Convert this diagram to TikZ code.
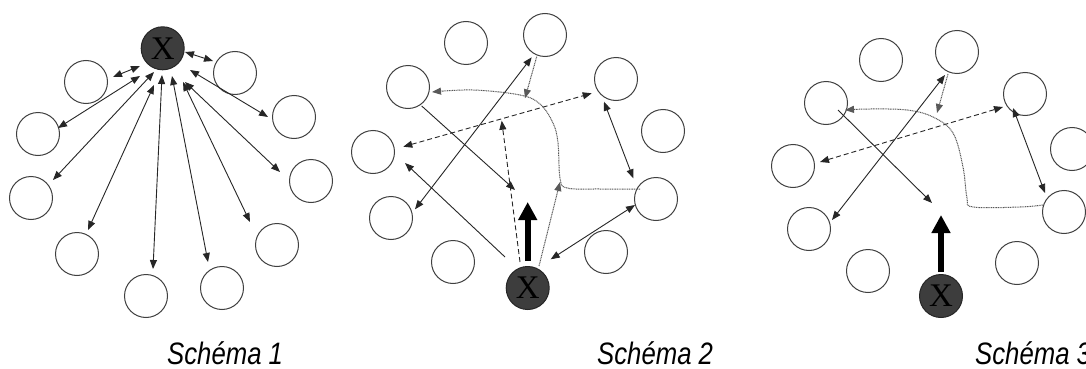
\documentclass[tikz,border=0pt]{standalone}
\usepackage{fontspec}
\usepackage{graphicx}
\setmainfont{Liberation Sans}
\newfontfamily\xfont{Liberation Serif}
\usetikzlibrary{arrows.meta}
\begin{document}
\begin{tikzpicture}[x=1pt,y=-1pt,
  circ/.style={circle,draw=black!75,line width=1pt,minimum size=43pt,inner sep=0pt},
  xnode/.style={circle,draw=black!85,fill=black!76,line width=1pt,minimum size=43pt,inner sep=0pt,font=\xfont\fontsize{33}{33}\selectfont},
  link/.style={line width=0.9pt,draw=black!85},
  tip/.style={-{Triangle[length=9pt,width=7pt]}},
  both/.style={{Triangle[length=9pt,width=7pt]}-{Triangle[length=9pt,width=7pt]}},
  dashlink/.style={link,dash pattern=on 5pt off 3pt},
  dotlink/.style={line width=1pt,draw=black!65,dash pattern=on 1pt off 0.7pt},
  bigarrow/.style={line width=6pt,draw=black,-{Triangle[length=18pt,width=18pt]}},
  caption/.style={font=\fontsize{31}{31}\selectfont\itshape,inner sep=0pt,anchor=base west}
]
\clip (0,0) rectangle (1086,369);
\fill[white] (0,0) rectangle (1086,369);

% ---------------- Schema 1 ----------------
\node[xnode] (s1x) at (162.7,48.3) {X};
\node[circ] (s1a) at (86,82) {};
\node[circ] (s1b) at (235,73) {};
\node[circ] (s1c) at (38,134) {};
\node[circ] (s1d) at (294,117) {};
\node[circ] (s1e) at (31,198) {};
\node[circ] (s1f) at (311,181) {};
\node[circ] (s1g) at (77,254) {};
\node[circ] (s1h) at (277,245) {};
\node[circ] (s1i) at (146,296) {};
\node[circ] (s1j) at (222,288) {};

\coordinate (p1a) at (185,52);  \coordinate (q1a) at (213,61);
\coordinate (p1b) at (140,66);  \coordinate (q1b) at (113,77);
\coordinate (p1c) at (140,76);  \coordinate (q1c) at (58,128);
\coordinate (p1d) at (154,72);  \coordinate (q1d) at (53,180);
\coordinate (p1e) at (154,85);  \coordinate (q1e) at (88,230);
\coordinate (p1f) at (162,75);  \coordinate (q1f) at (153,269);
\coordinate (p1g) at (172,76);  \coordinate (q1g) at (208,262);
\coordinate (p1h) at (183,82);  \coordinate (q1h) at (250,222);
\coordinate (p1i) at (185,82);  \coordinate (q1i) at (280,172);
\coordinate (p1j) at (190,70);  \coordinate (q1j) at (268,117);
\foreach \k in {a,b,c,d,e,f,g,h,i,j}
  \draw[link,both] (p1\k) -- (q1\k);

% ---------------- Schema 2 ----------------
\node[xnode] (s2x) at (527.7,288) {X};
\node[circ] (s2a) at (466,43) {};
\node[circ] (s2b) at (545,35) {};
\node[circ] (s2c) at (408,87) {};
\node[circ] (s2d) at (616,79) {};
\node[circ] (s2e) at (373,152) {};
\node[circ] (s2f) at (663,131) {};
\node[circ] (s2g) at (391,218) {};
\node[circ] (s2h) at (656,199) {};
\node[circ] (s2i) at (453,262) {};
\node[circ] (s2j) at (606,252) {};

\coordinate (a2s) at (531.7,57.3);  \coordinate (a2e) at (415,209.3);
\coordinate (b2s) at (536.7,56.7);  \coordinate (b2e) at (525,98.3);
\coordinate (c2s) at (421.7,106);   \coordinate (c2e) at (515,190);
\coordinate (d2s) at (403.3,146.7); \coordinate (d2e) at (591.7,93.3);
\coordinate (e2s) at (520,262);     \coordinate (e2e) at (501.7,120.7);
\coordinate (f2s) at (505,257);     \coordinate (f2e) at (405,163);
\coordinate (g2s) at (527.7,261);   \coordinate (g2e) at (527.7,202);
\coordinate (h2s) at (604,101.7);   \coordinate (h2e) at (633.3,178.3);
\coordinate (i2s) at (550.7,259.3); \coordinate (i2e) at (635,205);
\coordinate (j2s) at (539,266);     \coordinate (j2e) at (560,182);
\coordinate (k2s) at (640,189);     \coordinate (k2e) at (432,92);

\draw[link,both] (a2s) -- (a2e);
\draw[dotlink,tip] (b2s) -- (b2e);
\draw[link,tip] (c2s) -- (c2e);
\draw[dashlink,both] (d2s) -- (d2e);
\draw[dashlink,tip] (e2s) -- (e2e);
\draw[link,tip] (f2s) -- (f2e);
\draw[bigarrow] (g2s) -- (g2e);
\draw[link,both] (h2s) -- (h2e);
\draw[link,both] (i2s) -- (i2e);
\draw[dotlink,tip] (j2s) -- (j2e);
\draw[dotlink,tip] plot[smooth,tension=0.6] coordinates
  {(k2s) (600,189) (567,188) (560,178) (558,143) (553,123) (540,104) (520,95) (473,90) (k2e)};

% ---------------- Schema 3 ----------------
\node[xnode] (s3x) at (941,296) {X};
\node[circ] (s3a) at (881,60) {};
\node[circ] (s3b) at (957,52) {};
\node[circ] (s3c) at (826,103) {};
\node[circ] (s3d) at (1025,94) {};
\node[circ] (s3e) at (793,166) {};
\node[circ] (s3f) at (1072,149) {};
\node[circ] (s3g) at (809,229) {};
\node[circ] (s3h) at (1064,212) {};
\node[circ] (s3i) at (868,271) {};
\node[circ] (s3j) at (1017,263) {};

\coordinate (a3s) at (945,75);    \coordinate (a3e) at (832,220);
\coordinate (b3s) at (948,74);    \coordinate (b3e) at (937,113);
\coordinate (c3s) at (820,162);   \coordinate (c3e) at (1003,107);
\coordinate (d3s) at (838,110);   \coordinate (d3e) at (932,203);
\coordinate (e3s) at (1043,205);  \coordinate (e3e) at (845,110);
\coordinate (f3s) at (1013,108);  \coordinate (f3e) at (1045,193);
\coordinate (g3s) at (941,272);   \coordinate (g3e) at (941,215);

\draw[link,both] (a3s) -- (a3e);
\draw[dotlink,tip] (b3s) -- (b3e);
\draw[dashlink,both] (c3s) -- (c3e);
\draw[link,tip] (d3s) -- (d3e);
\draw[dotlink,tip] plot[smooth,tension=0.6] coordinates
  {(e3s) (1020,207) (973,207) (967,198) (963,167) (953,133) (933,117) (907,110) (870,109) (e3e)};
\draw[link,both] (f3s) -- (f3e);
\draw[bigarrow] (g3s) -- (g3e);

% ---------------- Captions ----------------
\node[caption] (cap1) at (167,364) {\scalebox{0.83}[1]{Schéma 1}};
\node[caption] (cap2) at (597,364) {\scalebox{0.83}[1]{Schéma 2}};
\node[caption] (cap3) at (975,364) {\scalebox{0.83}[1]{Schéma 3}};
\end{tikzpicture}
\end{document}
